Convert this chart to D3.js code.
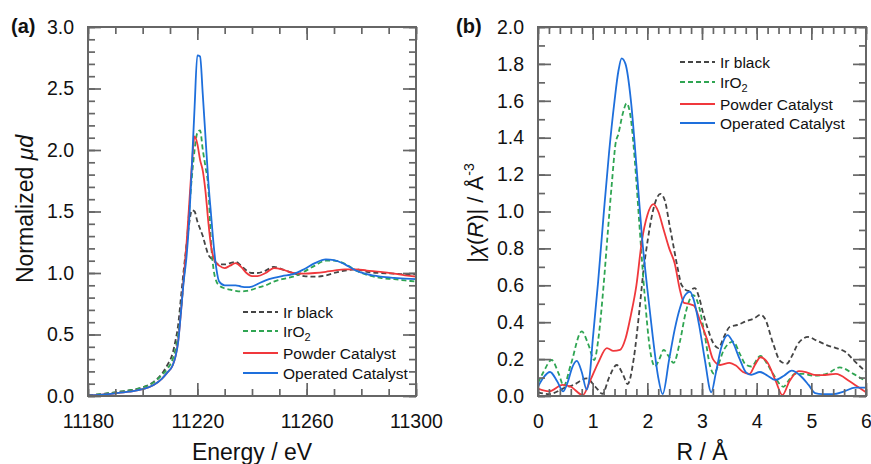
<!DOCTYPE html>
<html>
<head>
<meta charset="utf-8">
<script src="https://cdn.jsdelivr.net/npm/d3@7"></script>
<style>
body { margin: 0; background: #fff; }
text { font-family: "Liberation Sans", Arial, sans-serif; }
</style>
</head>
<body>
<svg id="fig" width="871" height="464"></svg>
<script>
// ---- panel (a) XANES : energy grid and normalized absorption ----
var energy = [11180, 11185, 11190, 11195, 11200, 11204, 11207, 11209, 11211, 11212, 11213, 11214,
  11215, 11216, 11217, 11218, 11219, 11220, 11221, 11222, 11223, 11224, 11225, 11226, 11227, 11228,
  11230, 11232, 11234, 11236, 11238, 11240, 11242, 11245, 11248, 11251, 11255, 11259, 11263, 11267,
  11270, 11274, 11278, 11282, 11287, 11292, 11296, 11300];

var xanesIrBlack = [0.005, 0.015, 0.03, 0.045, 0.07, 0.115, 0.18, 0.25, 0.35, 0.45, 0.58, 0.8,
  1.02, 1.22, 1.4, 1.51, 1.5, 1.42, 1.36, 1.3, 1.22, 1.15, 1.12, 1.1, 1.08, 1.07,
  1.07, 1.08, 1.09, 1.06, 1.02, 1.0, 1.0, 1.02, 1.05, 1.03, 1.0, 0.975, 0.97, 0.98,
  1.0, 1.02, 1.03, 1.01, 1.0, 0.995, 0.99, 0.99];

var xanesIrO2 = [0.005, 0.015, 0.03, 0.045, 0.07, 0.11, 0.17, 0.22, 0.3, 0.38, 0.5, 0.7,
  0.95, 1.2, 1.5, 1.78, 2.0, 2.14, 2.16, 2.0, 1.86, 1.7, 1.25, 1.02, 0.93, 0.9,
  0.875, 0.865, 0.855, 0.85, 0.855, 0.865, 0.88, 0.9, 0.93, 0.95, 0.97, 1.01, 1.06, 1.1,
  1.1, 1.075, 1.02, 0.985, 0.96, 0.95, 0.94, 0.93];

var xanesPowder = [0.005, 0.012, 0.022, 0.035, 0.055, 0.09, 0.14, 0.19, 0.25, 0.32, 0.45, 0.68,
  0.95, 1.22, 1.55, 1.88, 2.11, 2.05, 1.92, 1.83, 1.66, 1.42, 1.22, 1.12, 1.08, 1.06,
  1.04, 1.06, 1.08, 1.05, 1.0, 0.975, 0.975, 1.0, 1.04, 1.03, 1.0, 0.995, 1.0, 1.01,
  1.02, 1.03, 1.03, 1.02, 1.01, 0.995, 0.98, 0.97];

var xanesOperated = [0.005, 0.012, 0.022, 0.035, 0.055, 0.09, 0.14, 0.19, 0.25, 0.32, 0.44, 0.68,
  0.93, 1.12, 1.42, 1.87, 2.35, 2.77, 2.76, 2.45, 2.1, 1.75, 1.48, 1.22, 1.03, 0.93,
  0.9, 0.9, 0.9, 0.89, 0.885, 0.89, 0.91, 0.94, 0.96, 0.975, 0.99, 1.03, 1.08, 1.11,
  1.105, 1.07, 1.02, 0.99, 0.97, 0.96, 0.955, 0.95];

// ---- panel (b) EXAFS |chi(R)| ----
var rIrBlack = [0, 0.2, 0.5, 0.65, 0.89, 1.05, 1.18, 1.3, 1.44, 1.55, 1.64, 1.75, 1.85, 1.93, 2.01,
  2.1, 2.24, 2.32, 2.41, 2.48, 2.55, 2.63, 2.75, 2.87, 2.95, 3.02, 3.1, 3.2, 3.3, 3.4, 3.51, 3.65,
  3.8, 3.95, 4.07, 4.15, 4.3, 4.43, 4.55, 4.65, 4.76, 4.94, 5.1, 5.28, 5.45, 5.62, 5.8, 6.0];
var chiIrBlack = [0.02, 0.01, 0.045, 0.06, 0.095, 0.05, 0.012, 0.1, 0.168, 0.12, 0.065, 0.2, 0.45, 0.68, 0.85,
  1.0, 1.095, 1.06, 0.92, 0.81, 0.7, 0.6, 0.57, 0.585, 0.53, 0.45, 0.37, 0.29, 0.26, 0.32, 0.375, 0.385,
  0.405, 0.42, 0.44, 0.42, 0.285, 0.19, 0.175, 0.22, 0.285, 0.32, 0.3, 0.276, 0.26, 0.24, 0.186, 0.13];

var rIrO2 = [0, 0.1, 0.25, 0.38, 0.47, 0.6, 0.8, 0.92, 1.03, 1.1, 1.2, 1.28, 1.35, 1.42, 1.47, 1.55,
  1.62, 1.7, 1.77, 1.85, 1.95, 2.05, 2.14, 2.22, 2.3, 2.38, 2.48, 2.6, 2.7, 2.84, 2.95, 3.05, 3.15,
  3.22, 3.3, 3.4, 3.57, 3.69, 3.8, 3.9, 4.07, 4.2, 4.3, 4.49, 4.6, 4.7, 4.85, 5.04, 5.28, 5.52, 5.77, 6.0];
var chiIrO2 = [0.07, 0.13, 0.195, 0.12, 0.055, 0.17, 0.35, 0.28, 0.195, 0.3, 0.6, 0.9, 1.15, 1.37, 1.42, 1.53,
  1.586, 1.5, 1.28, 0.95, 0.55, 0.25, 0.16, 0.2, 0.25, 0.22, 0.18, 0.3, 0.45, 0.547, 0.48, 0.33, 0.16,
  0.12, 0.17, 0.25, 0.295, 0.23, 0.17, 0.16, 0.217, 0.17, 0.12, 0.05, 0.09, 0.12, 0.12, 0.11, 0.12, 0.155, 0.12, 0.08];

var rPowder = [0, 0.2, 0.45, 0.6, 0.82, 0.95, 1.1, 1.26, 1.38, 1.5, 1.6, 1.7, 1.8, 1.9, 2.0, 2.11,
  2.2, 2.3, 2.4, 2.5, 2.6, 2.67, 2.75, 2.85, 2.95, 3.1, 3.2, 3.33, 3.5, 3.62, 3.75, 3.87, 3.97, 4.07,
  4.2, 4.35, 4.47, 4.6, 4.77, 4.9, 5.05, 5.2, 5.45, 5.7, 5.85, 6.0];
var chiPowder = [0.04, 0.025, 0.06, 0.05, 0.005, 0.08, 0.18, 0.26, 0.245, 0.25, 0.31, 0.44, 0.6, 0.84, 0.98, 1.04,
  1.0, 0.9, 0.8, 0.72, 0.57, 0.505, 0.5, 0.49, 0.42, 0.3, 0.2, 0.168, 0.18, 0.165, 0.13, 0.12, 0.17, 0.21,
  0.18, 0.08, 0.005, 0.08, 0.135, 0.13, 0.115, 0.113, 0.12, 0.08, 0.05, 0.02];

var rOperated = [0, 0.1, 0.22, 0.35, 0.46, 0.55, 0.62, 0.71, 0.8, 0.89, 0.95, 1.0, 1.1, 1.2, 1.3, 1.4,
  1.47, 1.53, 1.6, 1.7, 1.8, 1.9, 2.0, 2.1, 2.2, 2.28, 2.4, 2.5, 2.6, 2.7, 2.78, 2.85, 2.95, 3.05,
  3.17, 3.25, 3.35, 3.47, 3.55, 3.69, 3.8, 3.9, 4.06, 4.2, 4.34, 4.5, 4.64, 4.8, 4.95, 5.07, 5.2,
  5.4, 5.6, 5.8, 6.0];
var chiOperated = [0.05, 0.1, 0.13, 0.08, 0.025, 0.08, 0.15, 0.19, 0.13, 0.035, 0.12, 0.3, 0.62, 0.98, 1.32, 1.6,
  1.76, 1.83, 1.8, 1.6, 1.25, 0.87, 0.58, 0.32, 0.1, 0.01, 0.2, 0.36, 0.48, 0.55, 0.565, 0.52, 0.38, 0.2,
  0.02, 0.12, 0.26, 0.33, 0.3, 0.2, 0.13, 0.115, 0.13, 0.11, 0.087, 0.11, 0.137, 0.11, 0.06, 0.015, 0.01,
  0.01, 0.025, 0.045, 0.045];

var seriesNames = ["Ir black", "IrO2", "Powder Catalyst", "Operated Catalyst"];
var energyTicks = [11180, 11220, 11260, 11300];
var muTicks = [0, 0.5, 1, 1.5, 2, 2.5, 3];
var rTicks = [0, 1, 2, 3, 4, 5, 6];
var chiTicks = [0, 0.2, 0.4, 0.6, 0.8, 1, 1.2, 1.4, 1.6, 1.8, 2];

var colors = ["#444444", "#2fa552", "#f0383c", "#1e6fdc"];
var dashes = ["5,3", "5,3", null, null];

var svg = d3.select("#fig");
svg.append("rect").attr("width", 871).attr("height", 464).attr("fill", "#fff");

function zip(xs, ys) { return xs.map(function(v, i) { return [v, ys[i]]; }); }

function panel(left, top, w, h, x, y, xMaj, xMin, yMaj, yMin, xFmt, yFmt, data, id) {
  var g = svg.append("g").attr("transform", "translate(" + left + "," + top + ")");

  g.append("clipPath").attr("id", id).append("rect").attr("width", w).attr("height", h);

  var line = d3.line()
    .x(function(d) { return x(d[0]); })
    .y(function(d) { return y(d[1]); })
    .curve(d3.curveMonotoneX);

  g.append("g").attr("clip-path", "url(#" + id + ")")
    .selectAll("path").data(data).enter().append("path")
    .attr("d", function(d) { return line(d); })
    .attr("fill", "none")
    .attr("stroke", function(d, i) { return colors[i]; })
    .attr("stroke-width", 1.8)
    .attr("stroke-dasharray", function(d, i) { return dashes[i]; });

  // ticks on all four sides, pointing in
  var ax = [
    [d3.axisBottom(x).tickValues(xMin).tickSize(-7).tickFormat(""), "translate(0," + h + ")"],
    [d3.axisBottom(x).tickValues(xMaj).tickSize(-13).tickPadding(18).tickFormat(xFmt), "translate(0," + h + ")"],
    [d3.axisTop(x).tickValues(xMin).tickSize(-7).tickFormat(""), "translate(0,0)"],
    [d3.axisTop(x).tickValues(xMaj).tickSize(-13).tickFormat(""), "translate(0,0)"],
    [d3.axisLeft(y).tickValues(yMin).tickSize(-7).tickFormat(""), "translate(0,0)"],
    [d3.axisLeft(y).tickValues(yMaj).tickSize(-13).tickPadding(14).tickFormat(yFmt), "translate(0,0)"],
    [d3.axisRight(y).tickValues(yMin).tickSize(-7).tickFormat(""), "translate(" + w + ",0)"],
    [d3.axisRight(y).tickValues(yMaj).tickSize(-13).tickFormat(""), "translate(" + w + ",0)"]
  ];
  ax.forEach(function(a) {
    var ag = g.append("g").attr("transform", a[1]).call(a[0]);
    ag.select(".domain").remove();
    ag.selectAll("line").attr("stroke", "#666").attr("stroke-width", 1.7);
    ag.selectAll("text").attr("font-size", "19.5px").attr("fill", "#111")
      .style("font-family", "'Liberation Sans', Arial, sans-serif");
  });

  g.append("rect").attr("width", w).attr("height", h)
    .attr("fill", "none").attr("stroke", "#666").attr("stroke-width", 2);
  return g;
}

function legend(g, lx, ys) {
  seriesNames.forEach(function(name, i) {
    g.append("line").attr("x1", lx).attr("x2", lx + 35).attr("y1", ys[i]).attr("y2", ys[i])
      .attr("stroke", colors[i]).attr("stroke-width", 1.8).attr("stroke-dasharray", dashes[i]);
    var t = g.append("text").attr("x", lx + 40).attr("y", ys[i] + 5.5)
      .attr("font-size", "15.5px").attr("fill", "#111");
    if (name === "IrO2") {
      t.append("tspan").text("IrO");
      t.append("tspan").attr("font-size", "11px").attr("dy", 4).text("2");
    } else {
      t.text(name);
    }
  });
}

// ---- panel (a) ----
var aL = 88, aT = 27, aW = 328, aH = 369;
var xa = d3.scaleLinear().domain([11180, 11300]).range([0, aW]);
var ya = d3.scaleLinear().domain([0, 3]).range([aH, 0]);
var ga = panel(aL, aT, aW, aH, xa, ya,
  energyTicks, d3.range(11180, 11301, 10), muTicks, d3.range(0, 3.001, 0.1),
  d3.format("d"), d3.format(".1f"),
  [zip(energy, xanesIrBlack), zip(energy, xanesIrO2), zip(energy, xanesPowder), zip(energy, xanesOperated)],
  "clipA");
legend(svg, 243, [312, 331, 353, 373]);

// ---- panel (b) ----
var bL = 538, bT = 27, bW = 328, bH = 369;
var xb = d3.scaleLinear().domain([0, 6]).range([0, bW]);
var yb = d3.scaleLinear().domain([0, 2]).range([bH, 0]);
var gb = panel(bL, bT, bW, bH, xb, yb,
  rTicks, d3.range(0, 6.001, 0.2), chiTicks, d3.range(0, 2.001, 0.1),
  d3.format("d"), d3.format(".1f"),
  [zip(rIrBlack, chiIrBlack), zip(rIrO2, chiIrO2), zip(rPowder, chiPowder), zip(rOperated, chiOperated)],
  "clipB");
legend(svg, 680, [62, 82, 104, 123]);

// panel letters
svg.append("text").attr("x", 11).attr("y", 33).attr("font-size", "20px").attr("font-weight", "bold")
  .attr("fill", "#111").text("(a)");
svg.append("text").attr("x", 456).attr("y", 33).attr("font-size", "20px").attr("font-weight", "bold")
  .attr("fill", "#111").text("(b)");

// axis titles
svg.append("text").attr("x", aL + aW / 2).attr("y", 460).attr("text-anchor", "middle")
  .attr("font-size", "23px").attr("fill", "#111").text("Energy / eV");
svg.append("text").attr("x", bL + bW / 2).attr("y", 460).attr("text-anchor", "middle")
  .attr("font-size", "23px").attr("fill", "#111").text("R / Å");

var ta = svg.append("text").attr("transform", "translate(33,209) rotate(-90)")
  .attr("text-anchor", "middle").attr("font-size", "23px").attr("fill", "#111");
ta.append("tspan").text("Normalized ");
ta.append("tspan").attr("font-style", "italic").text("μd");

var tb = svg.append("text").attr("transform", "translate(483,213) rotate(-90)")
  .attr("text-anchor", "middle").attr("font-size", "22px").attr("fill", "#111");
tb.append("tspan").text("|");
tb.append("tspan").attr("font-style", "italic").text("χ");
tb.append("tspan").text("(");
tb.append("tspan").attr("font-style", "italic").text("R");
tb.append("tspan").text(")| / Å");
tb.append("tspan").attr("font-size", "14px").attr("dy", -9).text("-3");
</script>
</body>
</html>
